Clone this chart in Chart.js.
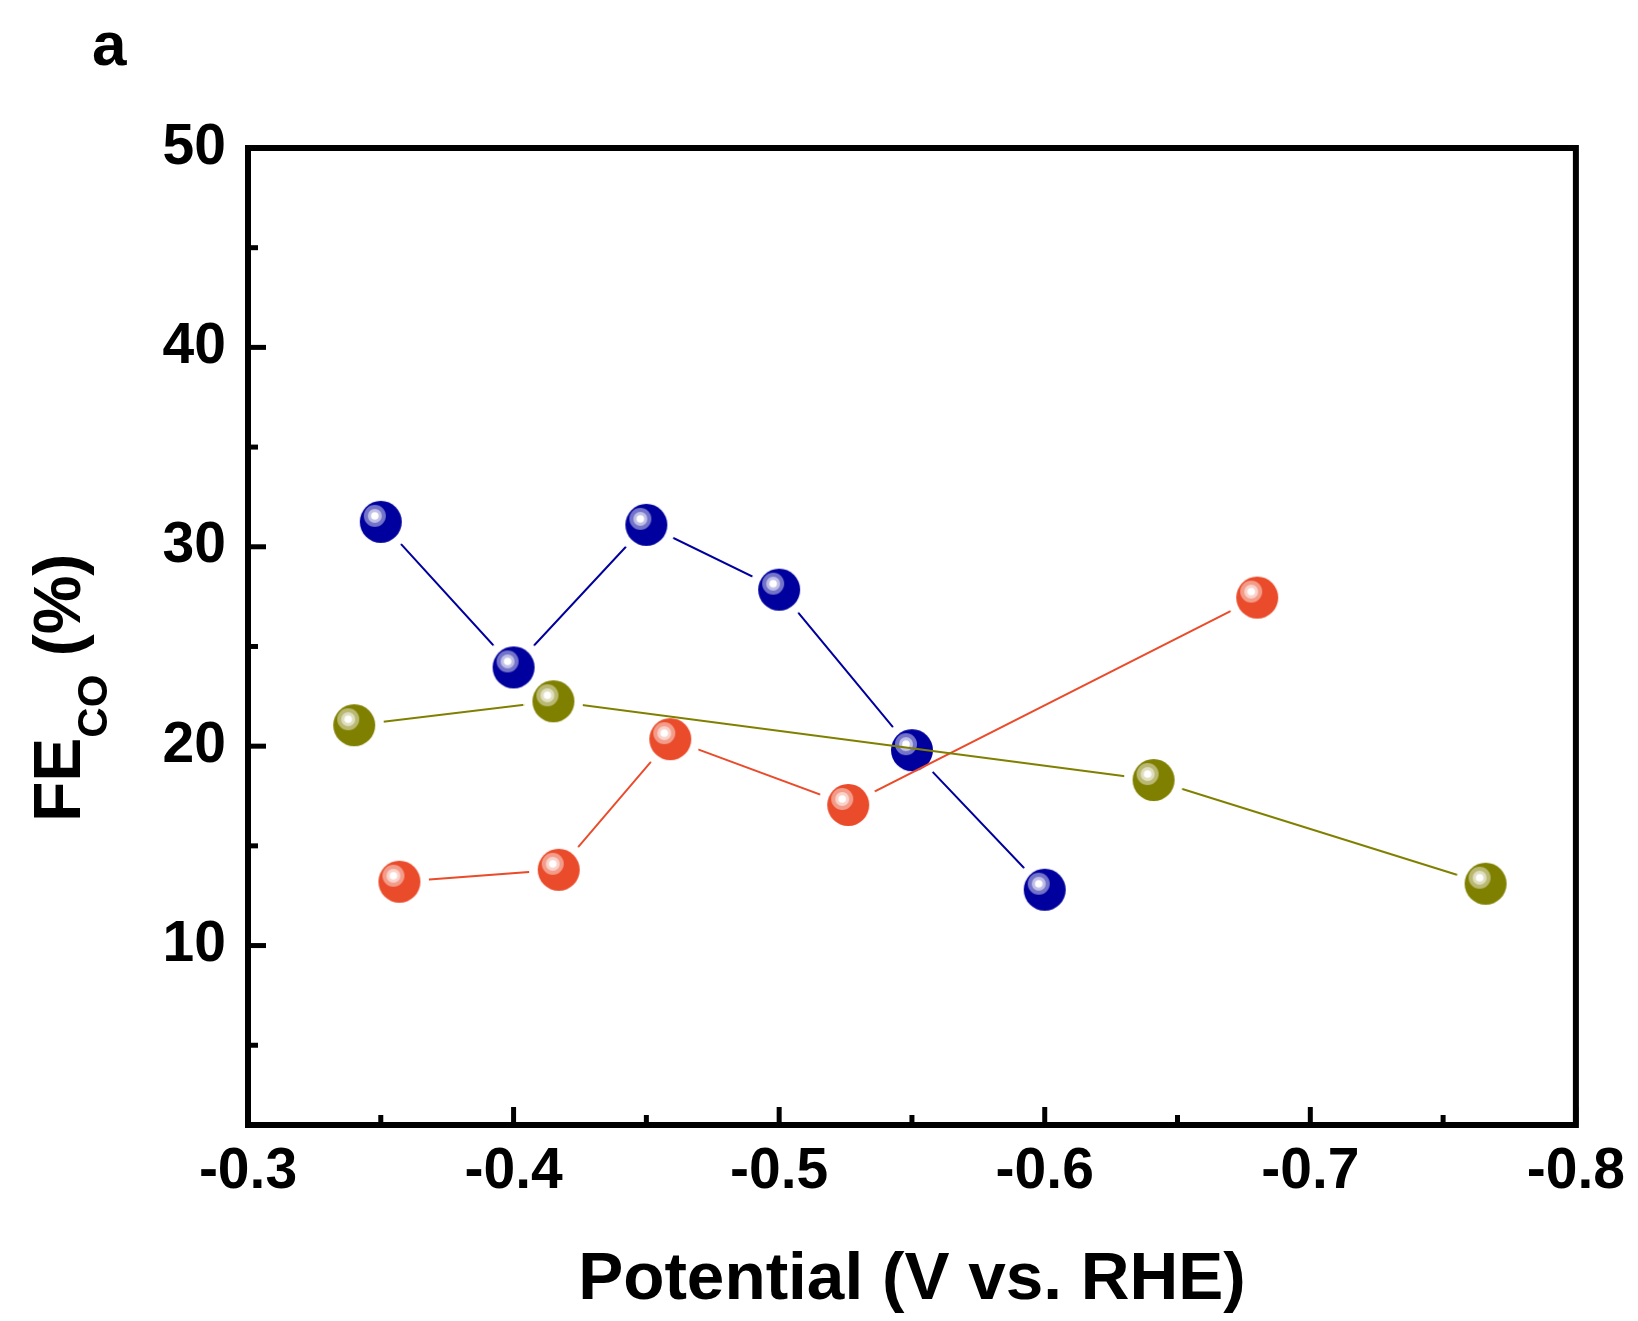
<!DOCTYPE html>
<html>
<head>
<meta charset="utf-8">
<script src="https://cdn.jsdelivr.net/npm/chart.js@4.4.1/dist/chart.umd.min.js"></script>
<style>
  html, body { margin: 0; padding: 0; background: #fff; }
  #wrap { width: 1638px; height: 1321px; }
</style>
</head>
<body>
<div id="wrap"><canvas id="myChart" width="1638" height="1321"></canvas></div>
<script>
// potential (V vs. RHE) and FE_CO (%)
const blueX = [-0.35, -0.40, -0.45, -0.50, -0.55, -0.60];
const blueY = [31.25, 23.95, 31.1, 27.85, 19.8, 12.8];
const redX = [-0.357, -0.417, -0.459, -0.526, -0.680];
const redY = [13.2, 13.8, 20.35, 17.05, 27.45];
const oliveX = [-0.340, -0.415, -0.641, -0.766];
const oliveY = [21.05, 22.25, 18.3, 13.1];

const xMajor = [-0.3, -0.4, -0.5, -0.6, -0.7, -0.8];
const xMinor = [-0.35, -0.45, -0.55, -0.65, -0.75];
const yMajor = [10, 20, 30, 40, 50];
const yMinor = [5, 15, 25, 35, 45];

const FONT = "'Liberation Sans', Arial, Helvetica, sans-serif";

function mix(hex, t) {
    const n = parseInt(hex.slice(1), 16);
    const r = (n >> 16) & 255, g = (n >> 8) & 255, b = n & 255;
    const m = c => Math.round(c + (255 - c) * t);
    return `rgb(${m(r)},${m(g)},${m(b)})`;
}

// shiny ball marker with a white halo, so the line stops short of it
function ball(color) {
    const R = 21, gap = 9, S = 2 * (R + gap);
    const c = document.createElement('canvas');
    c.width = S; c.height = S;
    const g = c.getContext('2d');
    const cx = S / 2, cy = S / 2;
    g.fillStyle = '#fff';
    g.beginPath(); g.arc(cx, cy, R + gap, 0, Math.PI * 2); g.fill();
    g.fillStyle = color;
    g.beginPath(); g.arc(cx, cy, R, 0, Math.PI * 2); g.fill();
    const hx = cx - 6, hy = cy - 6;
    g.fillStyle = mix(color, 0.45);
    g.beginPath(); g.arc(hx, hy, 11, 0, Math.PI * 2); g.fill();
    g.fillStyle = mix(color, 0.75);
    g.beginPath(); g.arc(hx, hy, 7, 0, Math.PI * 2); g.fill();
    g.fillStyle = '#fff';
    g.beginPath(); g.arc(hx, hy, 3.8, 0, Math.PI * 2); g.fill();
    return c;
}

const BLUE = '#00009E';
const RED = '#EA4B2A';
const OLIVE = '#808000';

function pts(xs, ys) {
    return xs.map((x, i) => ({ x: x, y: ys[i] }));
}

function makeSet(xs, ys, color, order) {
    return {
        data: pts(xs, ys),
        showLine: true,
        borderColor: color,
        borderWidth: 2,
        pointStyle: ball(color),
        pointRadius: 30,
        order: order,
    };
}

const framePlugin = {
    id: 'frame',
    afterDatasetsDraw(chart) {
        const { ctx, chartArea: a, scales } = chart;
        ctx.save();
        ctx.strokeStyle = '#000';
        ctx.lineWidth = 6;
        ctx.lineCap = 'square';
        ctx.strokeRect(a.left, a.top, a.right - a.left, a.bottom - a.top);
        ctx.lineWidth = 5;
        ctx.lineCap = 'butt';
        const tick = (x1, y1, x2, y2) => {
            ctx.beginPath(); ctx.moveTo(x1, y1); ctx.lineTo(x2, y2); ctx.stroke();
        };
        xMajor.forEach(v => { const p = scales.x.getPixelForValue(v); tick(p, a.bottom, p, a.bottom - 18); });
        xMinor.forEach(v => { const p = scales.x.getPixelForValue(v); tick(p, a.bottom, p, a.bottom - 10); });
        yMajor.forEach(v => { const p = scales.y.getPixelForValue(v); tick(a.left, p, a.left + 18, p); });
        yMinor.forEach(v => { const p = scales.y.getPixelForValue(v); tick(a.left, p, a.left + 10, p); });
        ctx.restore();
    },
    afterDraw(chart) {
        const ctx = chart.ctx;
        ctx.save();
        ctx.fillStyle = '#000';
        ctx.textBaseline = 'alphabetic';
        ctx.textAlign = 'left';
        // panel letter
        ctx.font = `bold 62px ${FONT}`;
        ctx.fillText('a', 92, 65);
        // y title with subscript
        ctx.translate(80, 822);
        ctx.rotate(-Math.PI / 2);
        ctx.font = `bold 66px ${FONT}`;
        ctx.fillText('FE', 0, 0);
        let w = ctx.measureText('FE').width;
        ctx.font = `bold 42px ${FONT}`;
        ctx.fillText('CO', w, 27);
        w += ctx.measureText('CO').width;
        ctx.font = `bold 66px ${FONT}`;
        ctx.fillText(' (%)', w, 0);
        ctx.restore();
    }
};

const ctx = document.getElementById('myChart').getContext('2d');
new Chart(ctx, {
    type: 'scatter',
    data: {
        datasets: [
            makeSet(blueX, blueY, BLUE, 3),
            makeSet(redX, redY, RED, 2),
            makeSet(oliveX, oliveY, OLIVE, 1),
        ]
    },
    options: {
        responsive: false,
        animation: false,
        events: [],
        layout: { padding: { left: 0, top: 148, right: 61, bottom: 0 } },
        plugins: {
            legend: { display: false },
            tooltip: { enabled: false },
        },
        scales: {
            x: {
                type: 'linear',
                reverse: true,
                min: -0.8,
                max: -0.3,
                afterBuildTicks: s => { s.ticks = xMajor.map(v => ({ value: v })); },
                afterFit: s => { s.height = 196; },
                grid: { display: false, drawTicks: false },
                border: { display: false },
                ticks: {
                    padding: 13,
                    color: '#000',
                    font: { family: FONT, size: 57, weight: 'bold' },
                    callback: v => v.toFixed(1),
                },
                title: {
                    display: true,
                    text: 'Potential (V vs. RHE)',
                    color: '#000',
                    padding: { top: 0, bottom: 0 },
                    font: { family: FONT, size: 67.5, weight: 'bold' },
                },
            },
            y: {
                min: 1,
                max: 50,
                afterBuildTicks: s => { s.ticks = yMajor.map(v => ({ value: v })); },
                afterFit: s => { s.width = 248; },
                grid: { display: false, drawTicks: false },
                border: { display: false },
                ticks: {
                    padding: 22,
                    color: '#000',
                    font: { family: FONT, size: 57, weight: 'bold' },
                },
            },
        },
    },
    plugins: [framePlugin],
});
</script>
</body>
</html>
